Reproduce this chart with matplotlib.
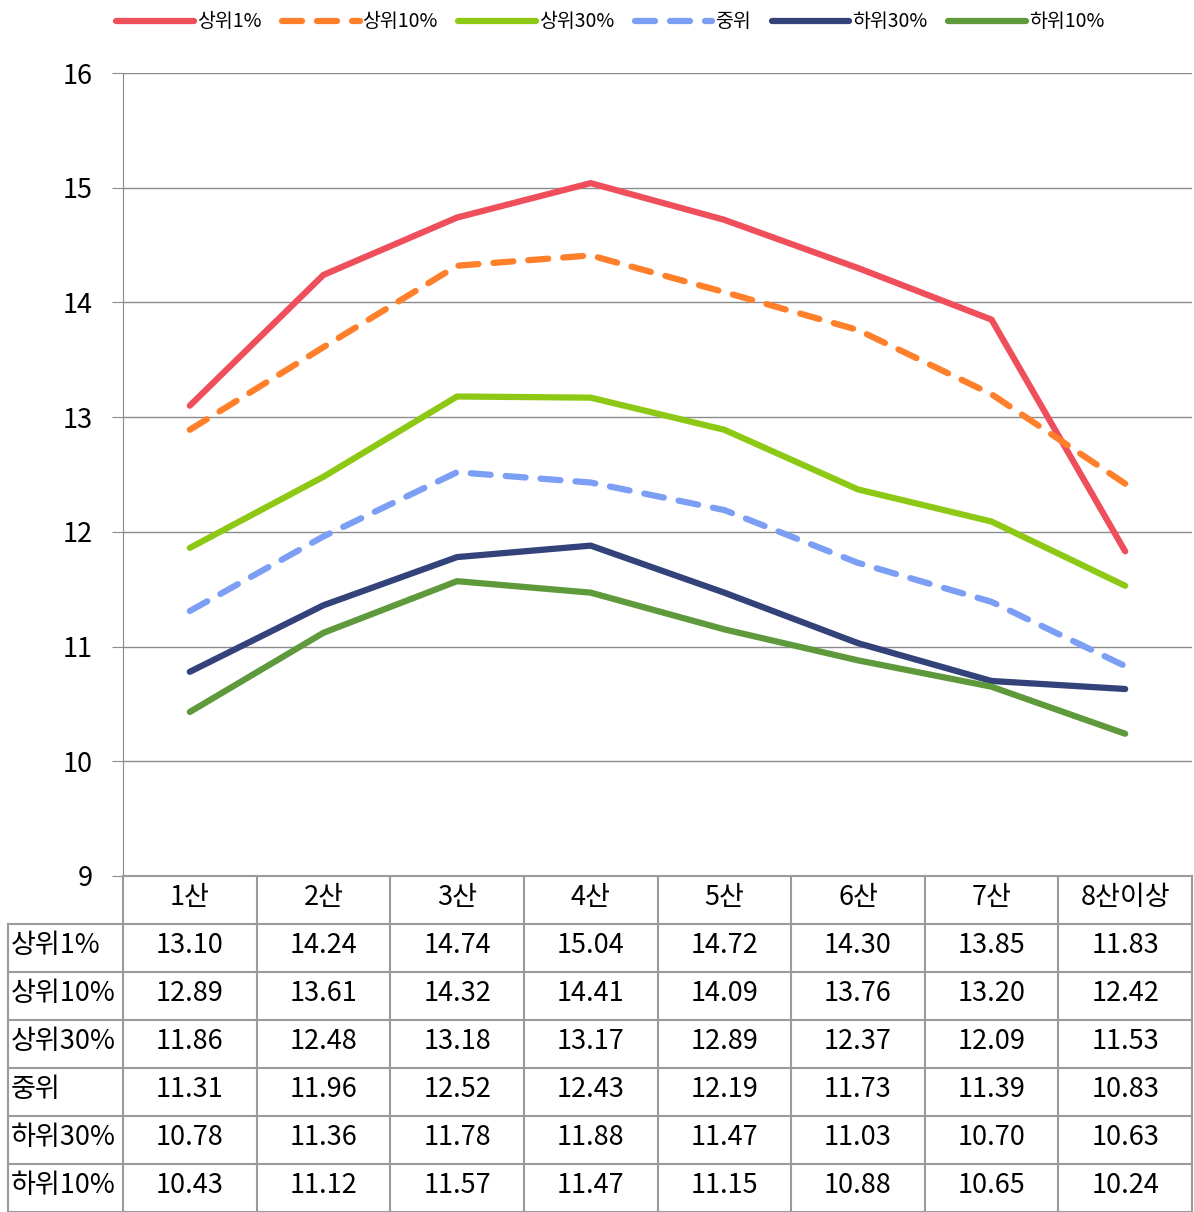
import numpy as np
import matplotlib
matplotlib.use("Agg")
import matplotlib.pyplot as plt

plt.rcParams['font.family'] = ['Noto Sans CJK KR', 'DejaVu Sans']

# data
categories = ["1산", "2산", "3산", "4산", "5산", "6산", "7산", "8산이상"]
series_names = ["상위1%", "상위10%", "상위30%", "중위", "하위30%", "하위10%"]
top1 = [13.10, 14.24, 14.74, 15.04, 14.72, 14.30, 13.85, 11.83]
top10 = [12.89, 13.61, 14.32, 14.41, 14.09, 13.76, 13.20, 12.42]
top30 = [11.86, 12.48, 13.18, 13.17, 12.89, 12.37, 12.09, 11.53]
median = [11.31, 11.96, 12.52, 12.43, 12.19, 11.73, 11.39, 10.83]
bottom30 = [10.78, 11.36, 11.78, 11.88, 11.47, 11.03, 10.70, 10.63]
bottom10 = [10.43, 11.12, 11.57, 11.47, 11.15, 10.88, 10.65, 10.24]
y_ticks = [9, 10, 11, 12, 13, 14, 15, 16]

series = [top1, top10, top30, median, bottom30, bottom10]
colors = ["#EF4F5B", "#FF7F2A", "#8DC914", "#7C9FF5", "#34427A", "#5E9A3B"]
dashed = [False, True, False, True, False, False]

W, H = 1194, 1212
def rect(x0, y0, x1, y1):
    return [x0 / W, 1 - y1 / H, (x1 - x0) / W, (y1 - y0) / H]

fig = plt.figure(figsize=(W / 100, H / 100), dpi=100)
ax = fig.add_axes(rect(123, 73, 1192, 876))

x = np.arange(len(categories))
handles = []
for name, vals, c, d in zip(series_names, series, colors, dashed):
    if d:
        ln, = ax.plot(x, vals, color=c, lw=4.5, dashes=(3.2, 2.4),
                      dash_capstyle="round", label=name)
    else:
        ln, = ax.plot(x, vals, color=c, lw=4.5, solid_capstyle="round",
                      solid_joinstyle="round", label=name)
    handles.append(ln)

ax.set_xlim(-0.5, len(categories) - 0.5)
ax.set_ylim(9, 16)
ax.set_yticks(y_ticks)
ax.set_yticklabels([str(t) for t in y_ticks], fontsize=19.5)
ax.set_xticks([])
for t in y_ticks[1:]:
    ax.axhline(t, color="#8C8C8C", lw=1, zorder=0)
for s in ["top", "right", "bottom"]:
    ax.spines[s].set_visible(False)
ax.spines["left"].set_color("#8C8C8C")
ax.tick_params(axis="y", length=8, color="#8C8C8C", pad=14)

leg = fig.legend(handles=handles, loc="upper center", bbox_to_anchor=(0.511, 1.005),
                 ncol=6, frameon=False, fontsize=14, handlelength=4.0,
                 handletextpad=0.15, columnspacing=1.05)

# data table
tab = fig.add_axes(rect(8, 876, 1192, 1212))
lab_w = 115 / 133.6
n = len(categories)
nrows = len(series_names) + 1
tab.set_xlim(-0.5 - lab_w, n - 0.5)
tab.set_ylim(nrows, 0)
tab.axis("off")
lc = "#9A9A9A"
# horizontal lines
tab.plot([-0.5, n - 0.5], [0, 0], color=lc, lw=1.5, clip_on=False)
for r in range(1, nrows + 1):
    tab.plot([-0.5 - lab_w, n - 0.5], [r, r], color=lc, lw=1.5, clip_on=False)
# vertical lines
tab.plot([-0.5 - lab_w, -0.5 - lab_w], [1, nrows], color=lc, lw=1.5, clip_on=False)
for i in range(n + 1):
    tab.plot([i - 0.5, i - 0.5], [0, nrows], color=lc, lw=1.5, clip_on=False)

for i, cat in enumerate(categories):
    tab.text(i, 0.45, cat, ha="center", va="center", fontsize=19.5)
for r, (name, vals) in enumerate(zip(series_names, series), start=1):
    tab.text(-0.5 - lab_w + 0.02, r + 0.45, name, ha="left", va="center", fontsize=19.5)
    for i, v in enumerate(vals):
        tab.text(i, r + 0.45, f"{v:.2f}", ha="center", va="center", fontsize=19.5)

fig.savefig("out.png", dpi=100)
